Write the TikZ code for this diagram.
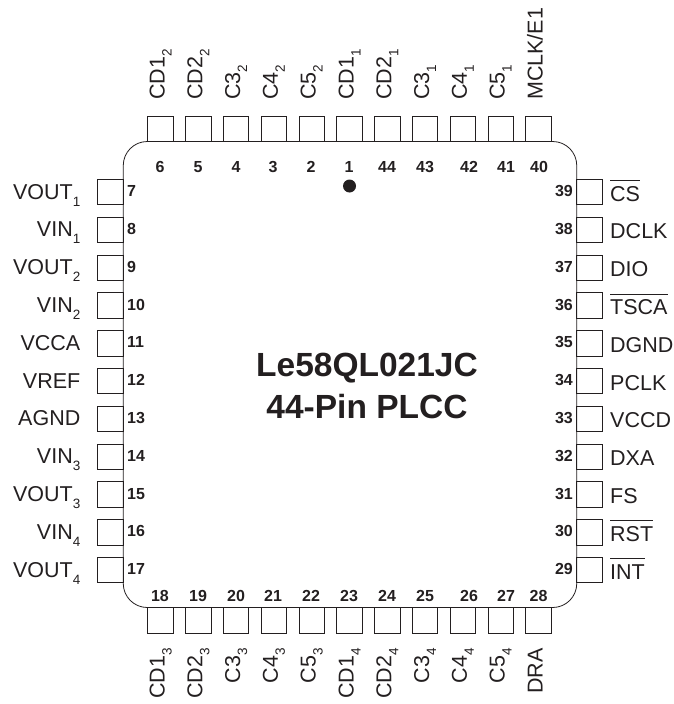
\documentclass[tikz,border=0pt]{standalone}
\usepackage{fontspec}
\setmainfont{Liberation Sans}
\definecolor{inkblack}{HTML}{231F20}
\newcommand{\pinsub}[1]{\raisebox{-7pt}{\fontsize{13.5}{13.5}\selectfont #1}}
\newcommand{\pinbar}[1]{\setbox0=\hbox{#1}\rlap{\rule[20pt]{\wd0}{.8pt}}\box0}

\begin{document}
\begin{tikzpicture}
  [x=1pt,y=-1pt,inner sep=0pt,color=inkblack,
   pad/.style={draw,line width=.8pt,minimum size=25.4pt},
   pinnum/.style={font=\bfseries\fontsize{16}{16}\selectfont},
   pinname/.style={font=\fontsize{21.5}{21.5}\selectfont}]
  \useasboundingbox (0,0) rectangle (673,704);

  \node (chip) [draw,line width=.8pt,rounded corners=24pt,minimum width=453.5pt,minimum height=466pt] at (350,374.5) {};
  \node (title) [align=center,font=\bfseries\fontsize{33.5}{41.5}\selectfont] at (367,386) {Le58QL021JC\\44-Pin PLCC};
  \node (dot) [circle,fill,minimum size=13pt] at (349.5,186) {};

  % top row
  \foreach \pin/\numx/\name [count=\i from 0] in {6/160/CD1\pinsub{2}, 5/198/CD2\pinsub{2}, 4/236/C3\pinsub{2}, 3/273/C4\pinsub{2}, 2/311/C5\pinsub{2}, 1/349/CD1\pinsub{1}, 44/387/CD2\pinsub{1}, 43/425/C3\pinsub{1}, 42/469/C4\pinsub{1}, 41/506/C5\pinsub{1}, 40/539/{MCLK/E1}}
  {
    \node (pad\pin) [pad] at ({160.5+\i*37.8},129) {};
    \node (num\pin) [pinnum,anchor=base] at (\numx,172) {\pin};
    \node (lab\pin) [pinname,rotate=90,anchor=base west] at ({164.5+\i*37.8},100) {\name};
  }

  % bottom row
  \foreach \pin/\numx/\name [count=\i from 0] in {18/160/CD1\pinsub{3}, 19/198/CD2\pinsub{3}, 20/236/C3\pinsub{3}, 21/273/C4\pinsub{3}, 22/311/C5\pinsub{3}, 23/349/CD1\pinsub{4}, 24/387/CD2\pinsub{4}, 25/425/C3\pinsub{4}, 26/469/C4\pinsub{4}, 27/506/C5\pinsub{4}, 28/538.5/DRA}
  {
    \node (pad\pin) [pad] at ({160.5+\i*37.8},620.3) {};
    \node (num\pin) [pinnum,anchor=base] at (\numx,601.7) {\pin};
    \node (lab\pin) [pinname,rotate=90,anchor=base east] at ({164.5+\i*37.8},648) {\name};
  }

  % left column
  \foreach \pin/\name [count=\i from 0] in {7/VOUT\pinsub{1}, 8/VIN\pinsub{1}, 9/VOUT\pinsub{2}, 10/VIN\pinsub{2}, 11/VCCA, 12/VREF, 13/AGND, 14/VIN\pinsub{3}, 15/VOUT\pinsub{3}, 16/VIN\pinsub{4}, 17/VOUT\pinsub{4}}
  {
    \node (pad\pin) [pad] at (110.3,{192+\i*37.8}) {};
    \node (num\pin) [pinnum,anchor=base west] at (127,{196.7+\i*37.8}) {\pin};
    \node (lab\pin) [pinname,anchor=base east] at (80.5,{199+\i*37.8}) {\name};
  }

  % right column
  \foreach \pin/\name [count=\i from 0] in {39/\pinbar{CS}, 38/DCLK, 37/DIO, 36/\pinbar{TSCA}, 35/DGND, 34/PCLK, 33/VCCD, 32/DXA, 31/FS, 30/\pinbar{RST}, 29/\pinbar{INT}}
  {
    \node (pad\pin) [pad] at (589.3,{192+\i*37.8}) {};
    \node (num\pin) [pinnum,anchor=base east] at (573,{196.7+\i*37.8}) {\pin};
    \node (lab\pin) [pinname,anchor=base west] at (610,{201+\i*37.8}) {\name};
  }

\end{tikzpicture}
\end{document}
